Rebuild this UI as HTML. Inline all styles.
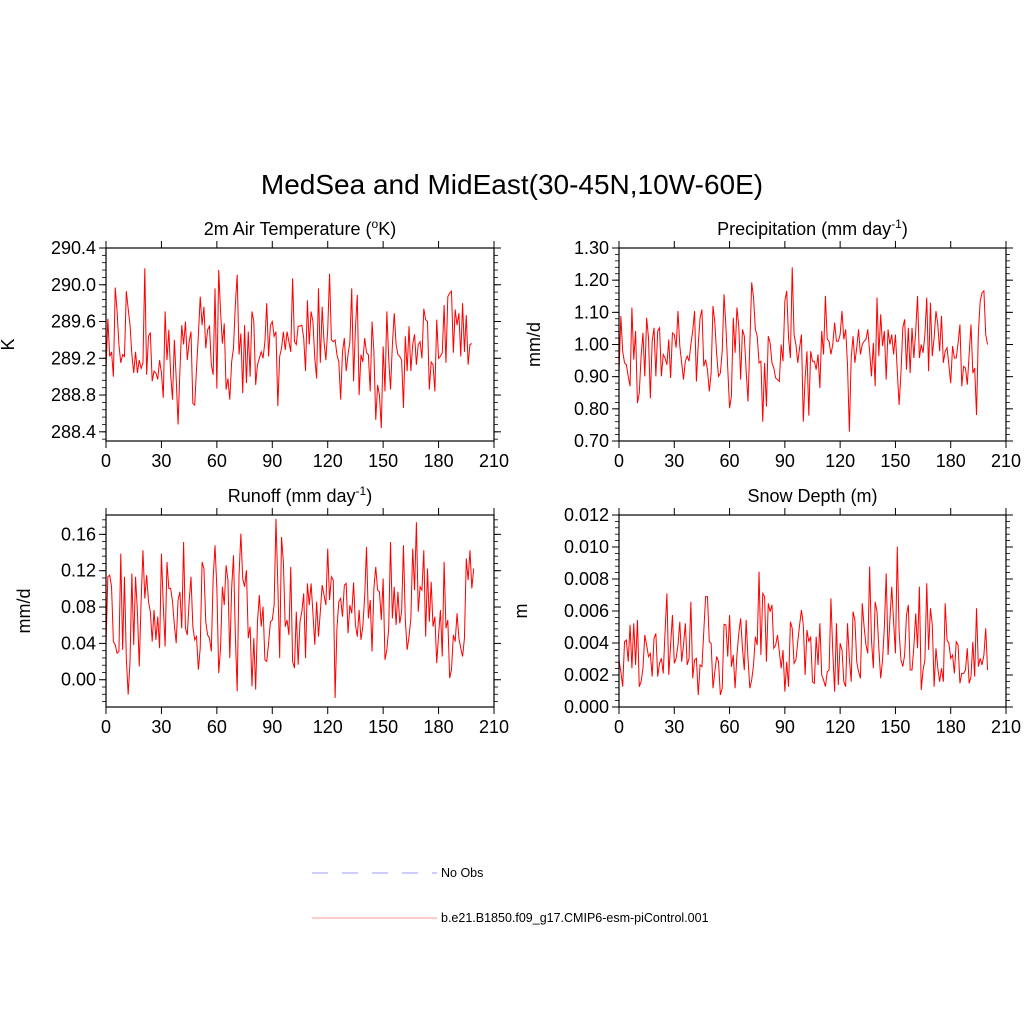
<!DOCTYPE html>
<html><head><meta charset="utf-8"><style>
html,body{margin:0;padding:0;background:#fff;}
svg{display:block;font-family:"Liberation Sans",sans-serif;}
</style></head><body>
<svg id="chart" width="1024" height="1024" viewBox="0 0 1024 1024" xmlns="http://www.w3.org/2000/svg">
<rect width="1024" height="1024" fill="#fff"/>
<text x="512" y="194" font-size="28" text-anchor="middle">MedSea and MidEast(30-45N,10W-60E)</text>
<g id="plots"></g>
<g>
<line x1="312" y1="873" x2="437" y2="873" stroke="#9999ff" stroke-width="1" stroke-dasharray="16,14"/>
<text x="441" y="877" font-size="12.5">No Obs</text>
<line x1="312" y1="918" x2="437" y2="918" stroke="#ff9999" stroke-width="1"/>
<text x="441" y="922" font-size="12.5">b.e21.B1850.f09_g17.CMIP6-esm-piControl.001</text>
</g>
</svg>
<script>
const tempValues=[289.07,289.63,289.22,289.27,289.00,289.97,289.71,289.35,289.15,289.24,289.22,289.93,289.74,289.56,289.24,289.04,289.27,289.04,289.18,289.09,289.15,290.18,289.02,289.44,289.48,288.95,289.06,289.04,288.97,289.18,289.04,288.77,289.71,289.18,289.51,289.02,288.75,289.40,288.98,288.48,289.06,289.56,289.35,289.60,289.18,289.38,289.49,288.71,288.69,289.09,289.45,289.87,289.56,289.76,289.31,289.51,289.55,289.13,289.02,289.96,288.87,290.16,289.71,289.36,289.58,288.86,288.98,288.75,289.16,289.31,289.78,290.11,289.24,289.47,288.82,289.56,288.93,289.49,289.00,289.71,289.60,288.91,289.13,289.20,289.27,289.20,289.38,289.80,289.22,289.56,289.60,289.44,289.49,288.68,289.22,289.31,289.49,289.29,289.49,289.38,289.27,290.07,289.38,289.35,289.55,
289.55,289.56,289.42,289.06,289.83,289.35,289.71,289.60,289.20,288.98,289.96,289.15,289.76,289.38,289.18,289.51,290.12,289.40,289.38,289.40,289.24,289.16,288.75,289.27,289.42,289.06,289.24,289.38,289.96,288.95,289.53,289.89,288.80,289.24,289.16,289.42,289.26,289.24,288.84,289.60,289.27,288.53,288.91,288.80,288.44,289.33,288.84,289.71,289.20,288.86,289.35,289.69,289.35,289.24,289.22,289.18,288.66,289.44,289.06,289.55,289.06,289.35,289.46,289.13,289.35,289.38,289.20,289.74,289.62,289.60,288.86,289.16,289.13,288.84,289.62,289.20,289.22,289.26,289.78,289.15,289.87,289.91,289.93,289.26,289.73,289.56,289.69,289.22,289.80,289.27,289.67,289.13,289.35,289.36];
const precValues=[.911,1.088,.979,.943,.937,.901,.870,1.115,.953,1.042,.818,.849,.964,1.036,.901,1.083,1.021,.833,1.010,1.052,.901,1.042,1.052,.901,.969,.958,.937,1.016,.896,1.036,1.031,.990,1.104,.995,.943,.891,.948,.964,.948,1.000,1.042,1.104,.885,1.000,1.083,1.109,.932,.953,.922,.854,.911,1.120,1.068,.969,.901,.911,.979,1.156,1.057,.927,.802,.839,1.083,.974,1.115,1.057,.891,1.047,1.026,.917,.823,1.000,1.193,1.146,1.047,1.026,.943,.948,.760,.943,.807,1.026,1.005,.943,.927,.896,.891,.885,1.000,.948,1.135,1.167,1.021,.958,1.240,1.031,1.000,.943,.990,1.031,.760,.896,.979,.779,.979,.948,
.948,.922,.969,.865,1.042,.969,1.151,1.016,1.010,.969,1.000,1.068,1.010,1.010,1.031,1.104,1.016,1.047,.937,.729,.958,1.026,.943,.990,1.047,.969,1.000,1.010,1.016,1.047,.979,.901,1.005,.870,1.146,.964,1.094,.995,1.042,.891,1.047,1.000,1.031,.969,1.031,.917,.812,.911,1.052,1.078,.922,1.052,.911,1.052,.958,1.042,1.151,.958,1.000,.974,1.031,1.146,.917,1.130,.964,1.021,1.104,1.062,.979,1.089,.943,.979,.990,.937,.880,.995,.958,.958,1.005,1.062,.870,.932,.927,.875,.969,1.062,.911,.927,.781,1.036,1.135,1.161,1.167,1.031,1.000];
const runoffValues=[.0384,.1133,.1151,.1023,.0420,.0384,.0292,.0311,.1388,.0329,.1133,.0238,-.0164,.0201,.1169,.0384,.1133,.0749,.0146,.0859,.1425,.0895,.1151,.0859,.0749,.0420,.0767,.0439,.0694,.0347,.1388,.0822,.0365,.1297,.1005,.1005,.0859,.0603,.0402,.0877,.0968,.0566,.1516,.0566,.0493,.0859,.1133,.0585,.0439,.0475,.0110,.0347,.1297,.1224,.0639,.0493,.0457,.0311,.1114,.1480,.1005,.0073,.0347,.1023,.0822,.1260,.1096,.0238,.1005,.1370,.0493,-.0128,.1151,.1608,.1114,.1023,.1206,.0457,.0585,-.0073,.0457,-.0109,.0639,.0932,.0585,.0804,.0219,.0201,.0402,.0639,.0658,.0822,.1772,.1041,.0238,.1571,.1297,.0585,.0658,.0493,.1242,.0201,.0128,.0749,.0165,.0639,
.0749,.0950,.0238,.1060,.0822,.1060,.0731,.0384,.0859,.0475,.0749,.1041,.0932,.0822,.1443,.0877,.1133,.1096,-.0201,.0566,.0859,.0895,.0694,.1041,.1060,.0512,.0822,.0731,.1070,.0603,.0475,.0767,.0439,.0585,.0913,.1461,.0676,.0877,.0311,.1005,.1242,.0987,.0968,.0658,.1114,.0219,.0329,.0566,.1516,.0676,.1023,.0603,.0968,.0621,.0749,.1480,.0658,.0329,.0475,.0676,.1443,.0987,.1735,.0749,.1023,.0987,.1425,.0475,.1224,.0639,.1078,.0585,.0694,.0183,.0493,.0767,.0256,.1297,.0566,.0658,.0018,.0110,.0493,.0420,.0731,.0457,.0347,.0256,.0457,.1334,.1096,.1425,.1005,.1224];
const snowValues=[.00294,.00221,.00127,.00408,.00419,.00283,.00513,.00242,.00523,.00263,.00544,.00127,.00158,.00242,.00450,.00387,.00315,.00335,.00190,.00429,.00460,.00190,.00273,.00304,.00210,.00471,.00710,.00200,.00387,.00575,.00273,.00304,.00387,.00533,.00283,.00387,.00523,.00263,.00304,.00658,.00179,.00294,.00304,.00075,.00263,.00252,.00471,.00690,.00690,.00408,.00398,.00117,.00221,.00315,.00283,.00075,.00117,.00517,.00513,.00315,.00575,.00252,.00325,.00117,.00325,.00460,.00554,.00367,.00231,.00544,.00304,.00117,.00169,.00263,.00440,.00387,.00846,.00325,.00710,.00690,.00283,.00648,.00596,.00638,.00367,.00387,.00450,.00346,.00242,.00356,.00096,.00283,.00127,.00533,.00492,.00273,.00294,.00408,.00513,.00606,.00513,.00200,.00481,.00408,.00440,.00158,
.00148,.00440,.00263,.00523,.00200,.00169,.00127,.00221,.00231,.00679,.00346,.00096,.00523,.00138,.00398,.00356,.00158,.00127,.00523,.00304,.00158,.00596,.00544,.00283,.00221,.00179,.00648,.00502,.00387,.00335,.00877,.00419,.00242,.00658,.00596,.00367,.00179,.00294,.00502,.00835,.00325,.00544,.00752,.00533,.00335,.01002,.00471,.00294,.00252,.00325,.00575,.00638,.00231,.00231,.00377,.00585,.00367,.00752,.00106,.00231,.00294,.00773,.00356,.00617,.00513,.00127,.00367,.00242,.00158,.00242,.00158,.00648,.00419,.00398,.00304,.00325,.00210,.00408,.00387,.00148,.00210,.00210,.00231,.00367,.00148,.00190,.00408,.00190,.00617,.00252,.00304,.00263,.00325,.00492,.00231];
const xTicks=[0,30,60,90,120,150,180,210];
const tempTicks=["288.4","288.8","289.2","289.6","290.0","290.4"];
const precTicks=["0.70","0.80","0.90","1.00","1.10","1.20","1.30"];
const runoffTicks=["0.00","0.04","0.08","0.12","0.16"];
const snowTicks=["0.000","0.002","0.004","0.006","0.008","0.010","0.012"];

const NS="http://www.w3.org/2000/svg";
const root=document.getElementById('plots');
function mk(tag,attrs,parent){const e=document.createElementNS(NS,tag);for(const k in attrs)e.setAttribute(k,attrs[k]);(parent||root).appendChild(e);return e;}

const panels=[
 {key:'temp',title:'2m Air Temperature (<tspan>o</tspan>K)',ylab:'K',vals:tempValues,ticks:tempTicks,ymin:288.3,ymax:290.4,minor:0.08,x0:106,x1:494,y0:248,y1:441,ylx:14},
 {key:'prec',title:'Precipitation (mm day<tspan>-1</tspan>)',ylab:'mm/d',vals:precValues,ticks:precTicks,ymin:0.70,ymax:1.30,minor:0.02,x0:619,x1:1006,y0:248,y1:441,ylx:540},
 {key:'runoff',title:'Runoff (mm day<tspan>-1</tspan>)',ylab:'mm/d',vals:runoffValues,ticks:runoffTicks,ymin:-0.0300,ymax:0.1813,minor:0.008,x0:106,x1:494,y0:515,y1:707,ylx:30},
 {key:'snow',title:'Snow Depth (m)',ylab:'m',vals:snowValues,ticks:snowTicks,ymin:0,ymax:0.012,minor:0.0004,x0:619,x1:1006,y0:515,y1:707,ylx:527}
];

panels.forEach(p=>{
 const g=mk('g',{});
 
 
 const xs=v=>p.x0+(v-0)/(210-0)*(p.x1-p.x0);
 const ys=v=>p.y1-(v-p.ymin)/(p.ymax-p.ymin)*(p.y1-p.y0);
 const t=mk('text',{x:(p.x0+p.x1)/2,y:p.y0-13,'font-size':18,'text-anchor':'middle'},g);
 
 
 t.innerHTML=p.title;
 const sp=t.querySelector('tspan');
 if(sp){sp.setAttribute('font-size','12');sp.setAttribute('dy','-7');const after=t.lastChild; if(after&&after.nodeType===3){const s2=document.createElementNS(NS,'tspan');s2.setAttribute('dy','7');s2.textContent=after.textContent;t.replaceChild(s2,after);}}
 const yl=mk('text',{x:p.ylx,y:(p.y0+p.y1)/2,'font-size':18,'text-anchor':'middle',transform:`rotate(-90 ${p.ylx} ${(p.y0+p.y1)/2})`},g);
 
 
 yl.textContent=p.ylab;
 xTicks.forEach(v=>{
  const x=xs(v);
  mk('line',{x1:x,y1:p.y1,x2:x,y2:p.y1+7,stroke:'#000','stroke-width':1},g);
  mk('line',{x1:x,y1:p.y0,x2:x,y2:p.y0-7,stroke:'#000','stroke-width':1},g);
  const tl=mk('text',{x:x,y:p.y1+26,'font-size':18,'text-anchor':'middle'},g);
  
  
  tl.textContent=v;
 });
 for(let v=Math.ceil(p.ymin/p.minor-1e-6)*p.minor; v<=p.ymax+1e-9; v+=p.minor){
  const y=ys(v);
  mk('line',{x1:p.x0,y1:y,x2:p.x0-4,y2:y,stroke:'#000','stroke-width':0.8},g);
  mk('line',{x1:p.x1,y1:y,x2:p.x1+4,y2:y,stroke:'#000','stroke-width':0.8},g);
 }
 p.ticks.forEach(s=>{
  const y=ys(parseFloat(s));
  mk('line',{x1:p.x0,y1:y,x2:p.x0-7,y2:y,stroke:'#000','stroke-width':1},g);
  mk('line',{x1:p.x1,y1:y,x2:p.x1+7,y2:y,stroke:'#000','stroke-width':1},g);
  const tl=mk('text',{x:p.x0-10,y:y+6,'font-size':18,'text-anchor':'end'},g);
  
  
  tl.textContent=s;
 });
 const pts=p.vals.map((v,i)=>xs(i).toFixed(2)+','+ys(v).toFixed(2)).join(' ');
 const line=mk('polyline',{points:pts,fill:'none',stroke:'#ff0000','stroke-width':1},g);
 
 
 const fr=mk('rect',{x:p.x0,y:p.y0,width:p.x1-p.x0,height:p.y1-p.y0,fill:'none',stroke:'#000','stroke-width':1.2},g);
 
 
});
</script>
</body></html>
